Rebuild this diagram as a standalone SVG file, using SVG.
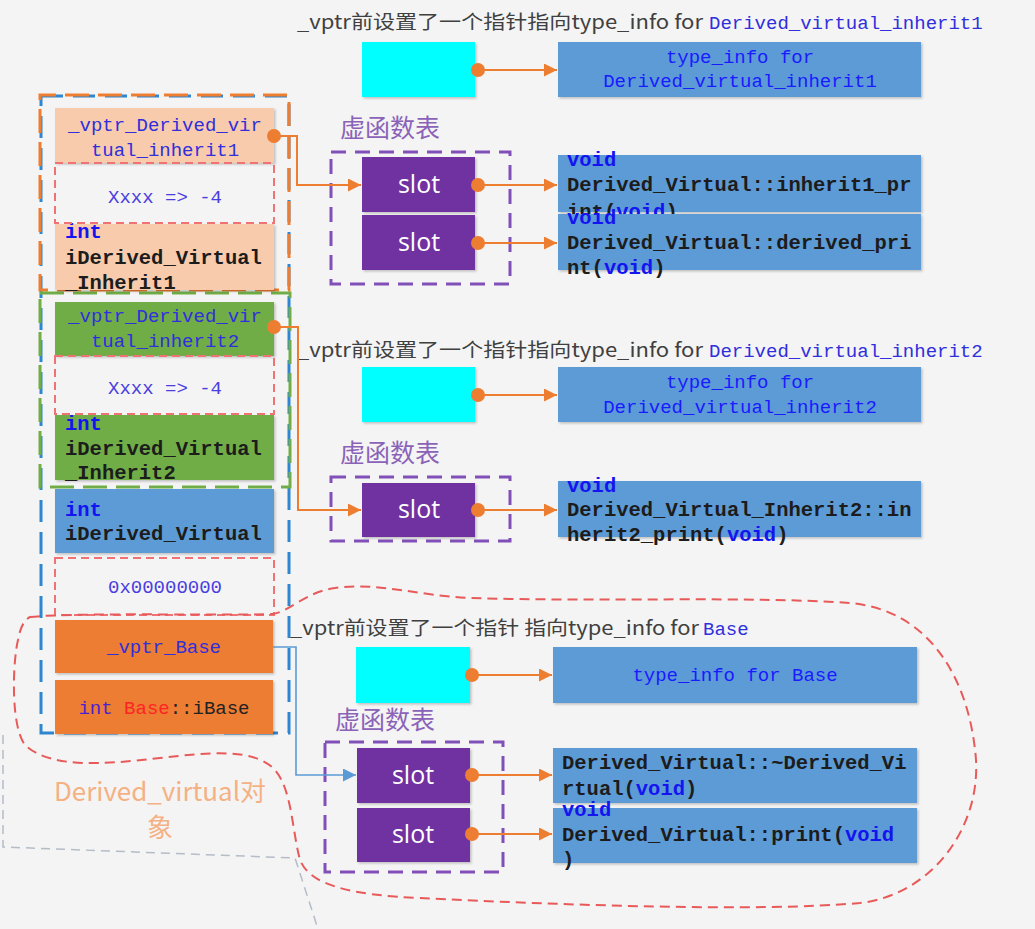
<svg xmlns="http://www.w3.org/2000/svg" width="1035" height="929" viewBox="0 0 1035 929">
<defs>
<filter id="sh" x="-5%" y="-5%" width="110%" height="120%"><feDropShadow dx="1.5" dy="1.5" stdDeviation="1.2" flood-color="#000" flood-opacity="0.22"/></filter>
<marker id="ao" viewBox="0 0 10 10" refX="10" refY="5" markerWidth="13" markerHeight="13" markerUnits="userSpaceOnUse" orient="auto"><path d="M0,0 L10,5 L0,10 z" fill="#ed7d31"/></marker>
<marker id="ab" viewBox="0 0 10 10" refX="10" refY="5" markerWidth="13" markerHeight="13" markerUnits="userSpaceOnUse" orient="auto"><path d="M0,0 L10,5 L0,10 z" fill="#5b9bd5"/></marker>
<style>
.bg{fill:#f4f4f4}
.peach{fill:#f8cbad}
.green{fill:#70ad47}
.blue{fill:#5b9bd5}
.orange{fill:#ed7d31}
.cyan{fill:#00ffff}
.slot{fill:#7030a0}
.box{filter:url(#sh)}
.rdash{fill:none;stroke:#f07272;stroke-width:2;stroke-dasharray:8 5}
.pdash{fill:none;stroke:#8050b8;stroke-width:3;stroke-dasharray:15 9}
.mono{font-family:"Liberation Mono","DejaVu Sans Mono",monospace;font-size:19px;fill:#2f2fdc}
.code{font-family:"Liberation Mono","DejaVu Sans Mono",monospace;font-size:20.5px;font-weight:bold;fill:#1c1c1c}
.kw{fill:#1414f0}
.sans{font-family:"Noto Sans CJK SC","Noto Sans",sans-serif;font-size:19px;fill:#404040}
.vt{font-family:"Noto Sans CJK SC","Noto Sans",sans-serif;font-size:25px;fill:#8a63b8}
.slt{font-family:"Open Sans","Noto Sans",sans-serif;font-size:25px;fill:#ffffff;text-anchor:middle}
.mid{text-anchor:middle}
.obj{font-family:"Noto Sans CJK SC","Noto Sans",sans-serif;font-size:26px;fill:#f4b183;text-anchor:middle}
.conn{fill:none;stroke:#ed7d31;stroke-width:2}
.connb{fill:none;stroke:#5b9bd5;stroke-width:1.6}
.dot{fill:#ed7d31}
</style>
</defs>
<rect class="bg" x="0" y="0" width="1035" height="929"/>

<!-- background outlines -->
<g id="object-outline">
<path d="M3,735 L3,847 L295,858 L318,929" fill="none" stroke="#b4bcc8" stroke-width="1.5" stroke-dasharray="9 6"/>
<rect x="41" y="96" width="248" height="637" fill="none" stroke="#2e86d0" stroke-width="3" stroke-dasharray="22 10"/>
<rect x="40" y="95" width="249" height="195" fill="none" stroke="#ed7d31" stroke-width="3" stroke-dasharray="24 9" stroke-dashoffset="8"/>
<rect x="40" y="293" width="250" height="194" fill="none" stroke="#70ad47" stroke-width="3" stroke-dasharray="24 9"/>
</g>

<!-- left memory cells -->
<g id="cell-vptr1">
<rect class="peach box" x="55" y="108" width="219" height="55"/>
<text class="mono mid" x="165" y="131">_vptr_Derived_vir</text>
<text class="mono mid" x="165" y="156">tual_inherit1</text>
</g>
<g id="cell-offset1">
<text class="mono mid" x="165" y="203" style="fill:#4a3ee0">Xxxx =&gt; -4</text>
</g>
<g id="cell-int1">
<rect class="peach box" x="55" y="224" width="219" height="66"/>
<text class="code kw" x="65" y="238">int</text>
<text class="code" x="65" y="264">iDerived_Virtual</text>
<text class="code" x="65" y="289">_Inherit1</text>
</g>
<g id="cell-vptr2">
<rect class="green box" x="55" y="302" width="219" height="54"/>
<text class="mono mid" x="165" y="322">_vptr_Derived_vir</text>
<text class="mono mid" x="165" y="347">tual_inherit2</text>
</g>
<g id="cell-offset2">
<text class="mono mid" x="165" y="394" style="fill:#4a3ee0">Xxxx =&gt; -4</text>
</g>
<g id="cell-int2">
<rect class="green box" x="55" y="415" width="219" height="65"/>
<text class="code kw" x="65" y="430">int</text>
<text class="code" x="65" y="455">iDerived_Virtual</text>
<text class="code" x="65" y="479">_Inherit2</text>
</g>
<g id="cell-int-derived">
<rect class="blue box" x="55" y="489" width="219" height="64"/>
<text class="code kw" x="65" y="516">int</text>
<text class="code" x="65" y="540">iDerived_Virtual</text>
</g>
<g id="cell-zero">
<text class="mono mid" x="165" y="593" style="fill:#4a3ee0">0x00000000</text>
</g>
<g id="cell-vptr-base">
<rect class="orange box" x="55" y="620" width="218" height="53"/>
<text class="mono mid" x="164" y="653">_vptr_Base</text>
</g>
<g id="cell-ibase">
<rect class="orange box" x="55" y="680" width="218" height="54"/>
<text class="mono mid" x="164" y="714"><tspan style="fill:#4a22d0">int</tspan> <tspan style="fill:#ff2424">Base</tspan><tspan style="fill:#222">::iBase</tspan></text>
</g>
<g id="cell-dashes">
<rect class="rdash" x="55" y="163" width="219" height="60"/>
<rect class="rdash" x="55" y="356" width="219" height="58"/>
<rect class="rdash" x="55" y="558" width="219" height="57"/>
</g>

<!-- object label -->
<g id="object-label">
<text class="obj" x="160" y="801" textLength="212" lengthAdjust="spacingAndGlyphs">Derived_virtual对</text>
<text class="obj" x="160" y="837">象</text>
</g>

<!-- red blob -->
<g id="base-region">
<path d="M30,617 C80,612 240,616 272,614 C290,612 305,592 335,588 C380,582 420,596 470,598 C600,602 750,596 850,603 C930,610 970,680 976,760 C980,830 930,895 860,903 C760,912 560,905 420,898 C350,895 310,885 300,860 C292,830 292,790 275,770 C255,748 210,752 160,758 C100,765 50,768 25,745 C10,725 13,660 18,640 C20,628 24,620 30,617 Z" fill="none" stroke="#e85a5a" stroke-width="2" stroke-dasharray="10 6"/>
</g>

<!-- section 1 -->
<g id="label1">
<text class="sans" x="297" y="29" textLength="406" lengthAdjust="spacingAndGlyphs">_vptr前设置了一个指针指向type_info for</text>
<text class="mono" x="709" y="29">Derived_virtual_inherit1</text>
</g>
<g id="typeptr1"><rect class="cyan box" x="362" y="42" width="113" height="55"/></g>
<g id="typeinfo1">
<rect class="blue box" x="558" y="42" width="363" height="55"/>
<text class="mono mid" x="740" y="63" style="fill:#1a1aff">type_info for</text>
<text class="mono mid" x="740" y="87" style="fill:#1a1aff">Derived_virtual_inherit1</text>
</g>
<g id="vtable1">
<text class="vt" x="340" y="137">虚函数表</text>
<rect class="pdash" x="331" y="152" width="179" height="132"/>
<rect class="slot box" x="362" y="157" width="113" height="55"/>
<text class="slt" x="419" y="193">slot</text>
<rect class="slot box" x="362" y="215" width="113" height="55"/>
<text class="slt" x="419" y="251">slot</text>
</g>
<g id="func1a">
<rect class="blue box" x="558" y="155" width="363" height="57"/>
<text class="code kw" x="567" y="166">void</text>
<text class="code" x="567" y="191">Derived_Virtual::inherit1_pr</text>
<text class="code" x="567" y="218">int(<tspan class="kw">void</tspan>)</text>
</g>
<g id="func1b">
<rect class="blue box" x="558" y="214" width="363" height="56"/>
<text class="code kw" x="567" y="224">void</text>
<text class="code" x="567" y="249">Derived_Virtual::derived_pri</text>
<text class="code" x="567" y="274">nt(<tspan class="kw">void</tspan>)</text>
</g>

<!-- section 2 -->
<g id="label2">
<text class="sans" x="297" y="357" textLength="406" lengthAdjust="spacingAndGlyphs">_vptr前设置了一个指针指向type_info for</text>
<text class="mono" x="709" y="357">Derived_virtual_inherit2</text>
</g>
<g id="typeptr2"><rect class="cyan box" x="362" y="367" width="113" height="55"/></g>
<g id="typeinfo2">
<rect class="blue box" x="558" y="367" width="363" height="55"/>
<text class="mono mid" x="740" y="388" style="fill:#1a1aff">type_info for</text>
<text class="mono mid" x="740" y="413" style="fill:#1a1aff">Derived_virtual_inherit2</text>
</g>
<g id="vtable2">
<text class="vt" x="340" y="462">虚函数表</text>
<rect class="pdash" x="331" y="477" width="179" height="64"/>
<rect class="slot box" x="362" y="483" width="113" height="54"/>
<text class="slt" x="419" y="518">slot</text>
</g>
<g id="func2">
<rect class="blue box" x="558" y="481" width="363" height="56"/>
<text class="code kw" x="567" y="492">void</text>
<text class="code" x="567" y="516">Derived_Virtual_Inherit2::in</text>
<text class="code" x="567" y="541">herit2_print(<tspan class="kw">void</tspan>)</text>
</g>

<!-- section 3 -->
<g id="label3">
<text class="sans" x="290" y="635" textLength="409" lengthAdjust="spacingAndGlyphs">_vptr前设置了一个指针 指向type_info for</text>
<text class="mono" x="703" y="635">Base</text>
</g>
<g id="typeptr3"><rect class="cyan box" x="356" y="647" width="114" height="56"/></g>
<g id="typeinfo3">
<rect class="blue box" x="553" y="647" width="364" height="56"/>
<text class="mono mid" x="735" y="681" style="fill:#1a1aff">type_info for Base</text>
</g>
<g id="vtable3">
<text class="vt" x="335" y="729">虚函数表</text>
<rect class="pdash" x="325" y="742" width="178" height="130"/>
<rect class="slot box" x="357" y="748" width="113" height="55"/>
<text class="slt" x="413" y="784">slot</text>
<rect class="slot box" x="357" y="808" width="113" height="54"/>
<text class="slt" x="413" y="843">slot</text>
</g>
<g id="func3a">
<rect class="blue box" x="553" y="748" width="364" height="55"/>
<text class="code" x="562" y="769">Derived_Virtual::~Derived_Vi</text>
<text class="code" x="562" y="795">rtual(<tspan class="kw">void</tspan>)</text>
</g>
<g id="func3b">
<rect class="blue box" x="553" y="808" width="364" height="55"/>
<text class="code kw" x="562" y="816">void</text>
<text class="code" x="562" y="841">Derived_Virtual::print(<tspan class="kw">void</tspan></text>
<text class="code" x="562" y="866">)</text>
</g>

<!-- connectors -->
<g id="connectors">
<path class="conn" d="M274,136 H297 V185 H361" marker-end="url(#ao)"/>
<circle class="dot" cx="274" cy="136" r="7"/>
<path class="conn" d="M274,327 H298 V510 H361" marker-end="url(#ao)"/>
<circle class="dot" cx="274" cy="327" r="7"/>
<path class="connb" d="M273,647 H296 V775 H356" marker-end="url(#ab)"/>

<path class="conn" d="M478,70 H557" marker-end="url(#ao)"/>
<circle class="dot" cx="478" cy="70" r="7"/>
<path class="conn" d="M478,185 H557" marker-end="url(#ao)"/>
<circle class="dot" cx="478" cy="185" r="7"/>
<path class="conn" d="M478,243 H557" marker-end="url(#ao)"/>
<circle class="dot" cx="478" cy="243" r="7"/>

<path class="conn" d="M478,395 H557" marker-end="url(#ao)"/>
<circle class="dot" cx="478" cy="395" r="7"/>
<path class="conn" d="M478,510 H557" marker-end="url(#ao)"/>
<circle class="dot" cx="478" cy="510" r="7"/>

<path class="conn" d="M472,675 H552" marker-end="url(#ao)"/>
<circle class="dot" cx="472" cy="675" r="7"/>
<path class="conn" d="M472,775 H552" marker-end="url(#ao)"/>
<circle class="dot" cx="472" cy="775" r="7"/>
<path class="conn" d="M472,834 H552" marker-end="url(#ao)"/>
<circle class="dot" cx="472" cy="834" r="7"/>
</g>
</svg>
